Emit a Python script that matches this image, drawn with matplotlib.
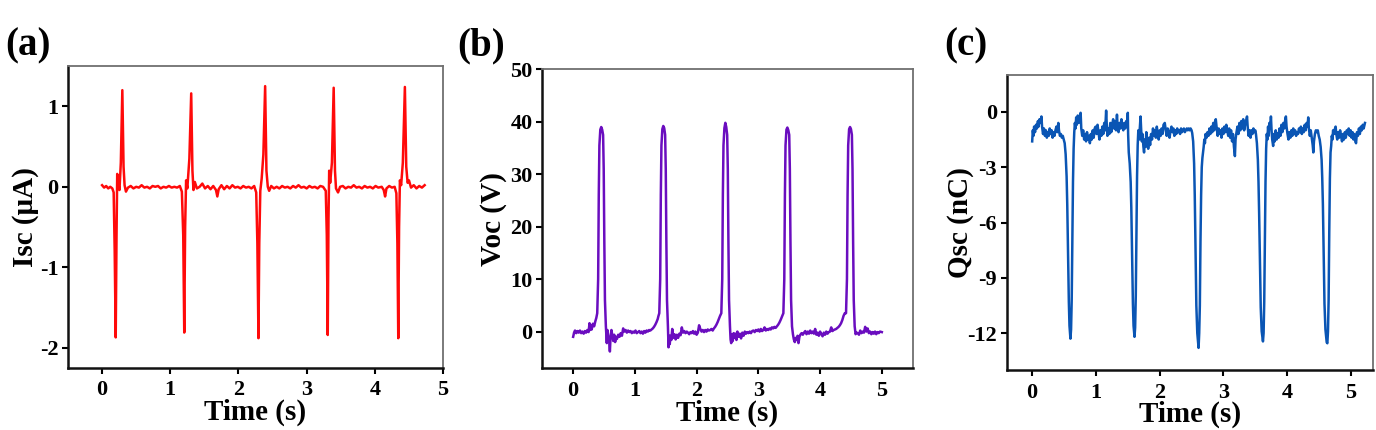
import numpy as np
import matplotlib
matplotlib.use('Agg')
import matplotlib.pyplot as plt

plt.rcParams['font.family'] = ['Liberation Serif', 'DejaVu Serif']
plt.rcParams['font.weight'] = 'bold'
plt.rcParams['axes.unicode_minus'] = False

# (a) short-circuit current, uA
isc_t = [0.00, 0.03, 0.06, 0.09, 0.12, 0.15, 0.17, 0.185, 0.200, 0.212, 0.222, 0.235, 0.255, 0.275, 0.297, 0.315, 0.33, 0.35,
         0.38, 0.42, 0.46, 0.50, 0.54, 0.58, 0.62, 0.66, 0.70, 0.74, 0.78, 0.82, 0.86, 0.90, 0.94, 0.98, 1.02, 1.06, 1.10, 1.14, 1.17,
         1.19, 1.205, 1.218, 1.232, 1.25, 1.28, 1.307, 1.325, 1.34, 1.36, 1.39, 1.43, 1.47, 1.51, 1.55, 1.59, 1.63, 1.67, 1.69, 1.71,
         1.75, 1.79, 1.83, 1.87, 1.91, 1.95, 1.99, 2.03, 2.07, 2.11, 2.15, 2.19, 2.23, 2.26,
         2.277, 2.293, 2.305, 2.32, 2.34, 2.365, 2.391, 2.41, 2.43, 2.45, 2.48, 2.52, 2.56, 2.60, 2.64, 2.68, 2.72, 2.76, 2.80, 2.84,
         2.88, 2.92, 2.96, 3.00, 3.04, 3.08, 3.12, 3.16, 3.20, 3.24, 3.28,
         3.295, 3.309, 3.32, 3.33, 3.345, 3.37, 3.396, 3.415, 3.43, 3.46, 3.49, 3.53, 3.57, 3.61, 3.65, 3.69, 3.73, 3.77, 3.81, 3.85,
         3.89, 3.93, 3.97, 4.01, 4.05, 4.10, 4.13, 4.15, 4.17, 4.21, 4.25, 4.29, 4.315,
         4.33, 4.343, 4.355, 4.367, 4.385, 4.41, 4.44, 4.46, 4.48, 4.50, 4.53, 4.57, 4.61, 4.65, 4.69, 4.73]
isc = [0.02, -0.01, 0.01, -0.02, 0.0, -0.02, -0.07, -0.8, -1.87, -0.6, 0.16, 0.06, -0.04, 0.3, 1.20, 0.25, 0.02, -0.06,
       -0.01, 0.01, -0.02, 0.0, -0.01, 0.02, -0.01, 0.0, -0.02, 0.01, 0.0, 0.01, -0.02, 0.0, -0.01, 0.01, -0.01, 0.0, -0.01, 0.01, -0.06,
       -0.6, -1.81, -0.5, 0.08, -0.02, 0.35, 1.16, 0.2, -0.04, 0.06, -0.02, 0.0, 0.04, -0.02, 0.01, -0.03, 0.01, -0.04, -0.12, -0.03,
       0.02, -0.03, 0.01, -0.02, 0.02, -0.01, 0.0, -0.02, 0.01, -0.01, 0.0, -0.02, 0.01, -0.07,
       -0.7, -1.88, -0.7, -0.05, 0.1, 0.4, 1.25, 0.2, 0.0, -0.05, 0.01, -0.02, 0.0, -0.02, 0.01, -0.01, 0.0, -0.02, 0.01, -0.01,
       0.02, -0.01, 0.0, -0.02, 0.01, -0.01, 0.0, -0.02, 0.01, 0.0, -0.05,
       -0.6, -1.84, -0.4, 0.2, 0.05, 0.3, 1.23, 0.2, -0.02, -0.07, 0.0, 0.01, -0.02, 0.0, -0.01, 0.02, -0.01, 0.0, -0.02, 0.01,
       -0.01, 0.0, -0.02, 0.01, -0.01, 0.0, -0.04, -0.12, -0.02, 0.01, -0.01, 0.0, -0.08,
       -0.7, -1.88, -0.5, 0.08, 0.02, 0.3, 1.24, 0.25, 0.05, 0.08, -0.01, 0.02, -0.02, 0.01, -0.01, 0.02]

# (b) open-circuit voltage, V
voc_t = [0.00, 0.015, 0.03, 0.05, 0.07, 0.09, 0.11, 0.13, 0.15, 0.17, 0.19, 0.21, 0.23, 0.25, 0.265, 0.275, 0.29, 0.30, 0.32,
         0.34, 0.36, 0.375, 0.39, 0.405, 0.415, 0.425, 0.44, 0.455, 0.47, 0.485, 0.495, 0.505, 0.515, 0.53, 0.545, 0.555, 0.57,
         0.585, 0.595, 0.605, 0.62, 0.635, 0.65, 0.665, 0.68, 0.695, 0.71, 0.73, 0.75, 0.77, 0.79, 0.81, 0.83, 0.85, 0.87, 0.89,
         0.91, 0.93, 0.95, 0.97, 0.99, 1.01, 1.03, 1.05, 1.07, 1.09, 1.11, 1.13, 1.15, 1.17, 1.19, 1.21, 1.23, 1.25, 1.27, 1.29,
         1.31, 1.33, 1.35, 1.37, 1.38, 1.395, 1.41, 1.42, 1.43, 1.445, 1.46, 1.475, 1.49, 1.50, 1.51, 1.52, 1.535, 1.545, 1.555,
         1.565, 1.575, 1.59, 1.605, 1.62, 1.64, 1.66, 1.68, 1.70, 1.72, 1.74, 1.76, 1.78, 1.80, 1.82, 1.84, 1.86, 1.88, 1.90, 1.92,
         1.94, 1.96, 1.98, 2.00, 2.02, 2.04, 2.06, 2.08, 2.10, 2.12, 2.14, 2.16, 2.18, 2.20, 2.22, 2.24, 2.26, 2.28, 2.30, 2.32,
         2.34, 2.36, 2.38, 2.40, 2.415, 2.425, 2.435, 2.45, 2.465, 2.48, 2.495, 2.505, 2.515, 2.525, 2.54, 2.55, 2.56, 2.57,
         2.585, 2.60, 2.615, 2.63, 2.645, 2.66, 2.68, 2.70, 2.72, 2.74, 2.76, 2.78, 2.80, 2.82, 2.84, 2.86, 2.88, 2.90, 2.92, 2.94,
         2.96, 2.98, 3.00, 3.02, 3.04, 3.06, 3.08, 3.10, 3.12, 3.14, 3.16, 3.18, 3.20, 3.22, 3.24, 3.26, 3.28, 3.30, 3.32, 3.34,
         3.36, 3.38, 3.395, 3.405, 3.42, 3.43, 3.44, 3.455, 3.47, 3.485, 3.50, 3.51, 3.52, 3.53, 3.545, 3.56, 3.575, 3.59, 3.605,
         3.62, 3.635, 3.65, 3.665, 3.68, 3.70, 3.72, 3.74, 3.76, 3.78, 3.80, 3.82, 3.84, 3.86, 3.88, 3.90, 3.92, 3.94, 3.96, 3.98,
         4.00, 4.02, 4.04, 4.06, 4.08, 4.10, 4.12, 4.14, 4.16, 4.18, 4.20, 4.22, 4.24, 4.26, 4.28, 4.30, 4.32, 4.34, 4.36, 4.38,
         4.40, 4.42, 4.435, 4.445, 4.455, 4.47, 4.485, 4.50, 4.515, 4.525, 4.535, 4.545, 4.56, 4.575, 4.59, 4.61, 4.63, 4.65,
         4.67, 4.69, 4.71, 4.73, 4.75, 4.77, 4.79, 4.81, 4.83, 4.85, 4.87, 4.89, 4.91, 4.93, 4.95, 4.97, 5.00]
voc = [-1.0, -0.2, 0.2, -0.3, 0.1, -0.2, 0.2, -0.3, 0.0, -0.4, 0.1, -0.2, 0.3, -0.1, 1.6, 0.3, 1.2, 0.4, 1.5,
       1.0, 2.0, 2.6, 3.5, 10, 26, 35.5, 38.5, 39.0, 38.5, 37.5, 31, 17, 6, 1.0, -2.2, 0.3, -1.0,
       -2.0, -3.8, -1.2, 0.3, -0.8, -1.8, -0.6, -2.0, -1.0, -1.4, -0.6, -1.0, -0.3, -0.8, 0.6, 0.0, 0.3, -0.2, 0.2,
       -0.1, 0.1, -0.3, 0.0, -0.2, 0.2, -0.3, -0.1, 0.1, -0.3, 0.0, -0.4, 0.1, -0.2, 0.2, 0.0, 0.3, 0.2, 0.4, 0.6,
       0.9, 1.3, 1.8, 2.4, 2.9, 3.5, 10, 26, 35.5, 38.6, 39.2, 38.8, 37.5, 31, 17, 6, 1.0, -3.0, -0.8,
       -2.4, -0.8, -1.6, 0.5, -1.2, -0.5, -1.5, -0.6, -1.2, -0.4, -0.7, 0.8, -0.2, 0.1, -0.3, 0.0, -0.2, -0.5, -0.1, -0.3,
       0.1, -0.4, 0.0, -0.6, -0.2, 1.2, 0.5, 0.0, 0.3, -0.1, 0.3, 0.0, 0.4, 0.2, 0.3, 0.5, 0.2, 0.6, 0.9, 1.3,
       1.8, 2.4, 3.0, 3.5, 10, 26, 35.5, 38.8, 39.8, 39.0, 37.5, 31, 17, 6, 1.0, -1.5, -2.2, -0.5,
       -1.8, -0.3, -1.2, -0.4, -1.6, 0.0, -1.0, -0.4, -1.3, -0.2, -0.8, 0.0, -0.4, -0.1, -0.3, 0.0, -0.3, 0.1, 0.2, -0.1,
       0.3, 0.1, 0.4, 0.0, 0.5, 0.1, 0.3, 0.8, 0.2, 0.5, 0.3, 0.6, 0.4, 0.8, 0.6, 0.9, 0.7, 1.0, 1.3, 1.7,
       2.2, 2.8, 3.2, 3.5, 10, 26, 35.5, 38.5, 38.9, 38.4, 37.5, 31, 17, 6, 1.0, -0.5, -1.5, -2.0, -1.2,
       -1.6, -0.8, -2.2, -1.0, -0.6, -0.3, -0.6, -0.2, 0.1, -0.5, 0.0, -0.4, 0.2, -0.3, 0.0, -0.4, 0.5, -0.6, -0.2, -0.8,
       0.0, -0.5, -0.9, -0.2, -0.6, 0.0, -0.4, -0.1, 0.0, 0.8, 0.1, 0.3, 0.4, 0.5, 0.7, 0.9, 1.2, 1.6, 2.2, 3.0,
       3.5, 3.5, 10, 26, 35.5, 38.6, 39.0, 38.6, 37.5, 31, 17, 6, 1.0, -0.5, -0.2, -0.3, -0.6, 0.2,
       -0.3, 0.0, -0.2, 0.9, 0.0, 0.6, -0.3, 0.0, -0.5, -0.1, -0.4, 0.0, -0.5, -0.1, -0.3, 0.0, -0.1]

# (c) transferred charge, nC
qsc_t = [0.00, 0.01, 0.02, 0.03, 0.045, 0.06, 0.075, 0.09, 0.10, 0.115, 0.13, 0.145, 0.155, 0.17, 0.185, 0.20, 0.215, 0.23,
         0.245, 0.26, 0.275, 0.29, 0.305, 0.32, 0.335, 0.35, 0.365, 0.38, 0.395, 0.41, 0.42, 0.435, 0.45, 0.465, 0.48, 0.495,
         0.51, 0.525, 0.54, 0.55, 0.565, 0.575, 0.585, 0.60, 0.61, 0.62, 0.63, 0.64, 0.65, 0.66, 0.67, 0.68, 0.69, 0.70, 0.715,
         0.73, 0.745, 0.76, 0.77, 0.785, 0.80, 0.815, 0.83, 0.845, 0.86, 0.875, 0.89, 0.905, 0.92, 0.935, 0.95, 0.965, 0.98,
         0.995, 1.01, 1.025, 1.04, 1.055, 1.07, 1.085, 1.10, 1.115, 1.13, 1.145, 1.16, 1.17, 1.18, 1.195, 1.21, 1.225, 1.24,
         1.255, 1.27, 1.285, 1.30, 1.315, 1.33, 1.34, 1.355, 1.37, 1.385, 1.40, 1.415, 1.43, 1.445, 1.46, 1.475, 1.49, 1.50,
         1.505, 1.515, 1.53, 1.545, 1.555, 1.57, 1.58, 1.59, 1.605, 1.615, 1.625, 1.635, 1.645, 1.655, 1.665, 1.675, 1.69, 1.70,
         1.71, 1.72, 1.73, 1.745, 1.755, 1.765, 1.78, 1.79, 1.805, 1.82, 1.835, 1.85, 1.865, 1.88, 1.895, 1.91, 1.925, 1.94,
         1.955, 1.97, 1.985, 2.00, 2.015, 2.03, 2.045, 2.06, 2.08, 2.095, 2.11, 2.125, 2.14, 2.155, 2.17, 2.185, 2.20, 2.215,
         2.23, 2.245, 2.26, 2.275, 2.29, 2.305, 2.32, 2.335, 2.35, 2.365, 2.38, 2.395, 2.41, 2.425, 2.44, 2.455, 2.47, 2.485,
         2.50, 2.51, 2.525, 2.54, 2.55, 2.565, 2.575, 2.59, 2.61, 2.62, 2.63, 2.64, 2.65, 2.66, 2.67, 2.68, 2.69, 2.70, 2.71,
         2.72, 2.735, 2.75, 2.765, 2.78, 2.795, 2.81, 2.825, 2.84, 2.855, 2.87, 2.88, 2.895, 2.91, 2.925, 2.94, 2.955, 2.97,
         2.985, 3.00, 3.015, 3.03, 3.045, 3.06, 3.075, 3.09, 3.105, 3.12, 3.135, 3.15, 3.165, 3.18, 3.19, 3.205, 3.22, 3.235,
         3.25, 3.265, 3.28, 3.295, 3.31, 3.325, 3.34, 3.355, 3.37, 3.38, 3.395, 3.41, 3.425, 3.44, 3.455, 3.47, 3.485, 3.50,
         3.51, 3.525, 3.54, 3.55, 3.56, 3.575, 3.585, 3.60, 3.62, 3.63, 3.64, 3.65, 3.66, 3.67, 3.68, 3.69, 3.70, 3.71, 3.72,
         3.735, 3.745, 3.755, 3.765, 3.78, 3.79, 3.805, 3.82, 3.835, 3.85, 3.865, 3.88, 3.895, 3.91, 3.925, 3.94, 3.955, 3.97,
         3.98, 3.99, 4.005, 4.02, 4.035, 4.05, 4.065, 4.08, 4.095, 4.11, 4.125, 4.14, 4.155, 4.17, 4.185, 4.20, 4.215, 4.23,
         4.245, 4.26, 4.275, 4.29, 4.305, 4.32, 4.33, 4.34, 4.355, 4.37, 4.385, 4.40, 4.41, 4.42, 4.435, 4.45, 4.465, 4.48,
         4.495, 4.51, 4.525, 4.54, 4.55, 4.56, 4.575, 4.585, 4.60, 4.62, 4.63, 4.64, 4.65, 4.66, 4.67, 4.68, 4.69, 4.70, 4.71,
         4.72, 4.735, 4.75, 4.76, 4.77, 4.785, 4.80, 4.815, 4.83, 4.845, 4.86, 4.875, 4.89, 4.905, 4.92, 4.935, 4.95, 4.965,
         4.98, 4.995, 5.01, 5.025, 5.04, 5.055, 5.07, 5.08, 5.095, 5.11, 5.125, 5.14, 5.155, 5.17, 5.185, 5.20, 5.22]
qsc = [-1.6, -1.0, -1.3, -0.8, -1.1, -0.7, -0.9, -0.5, -0.8, -0.4, -0.6, -0.25, -0.8, -1.2, -0.9, -1.3, -1.0, -1.4,
       -1.1, -1.3, -0.9, -1.2, -1.0, -1.4, -1.1, -1.3, -1.0, -0.8, -1.1, -0.6, -1.0, -1.3, -1.2, -1.4, -1.3, -1.5,
       -1.7, -2.3, -3.5, -5.0, -8.0, -10.3, -11.6, -12.3, -11.8, -10.2, -6.8, -3.8, -2.0, -1.1, -0.6, -0.9, -0.3, -0.7, -0.2,
       -0.6, -0.3, -0.05, -0.9, -1.3, -1.0, -1.5, -1.2, -1.6, -1.1, -1.5, -1.3, -1.7, -1.2, -1.5, -1.0, -1.4, -0.9,
       -0.8, -1.2, -0.7, -1.1, -1.5, -1.0, -1.3, -0.8, -1.2, -0.6, -1.0, 0.07, -0.7, -1.3, -0.9, -1.2, -0.6, -1.1,
       -0.7, -0.4, -0.9, -0.5, -1.0, -0.15, -0.8, -1.1, -0.6, -0.9, -0.4, -0.8, -1.0, -0.6, -0.9, -0.5, -0.7, -0.05,
       -1.2, -2.2, -2.8, -3.8, -5.2, -8.2, -10.4, -11.6, -12.2, -11.7, -10.0, -6.5, -3.5, -1.8, -1.0, -1.5, -0.8, -0.25,
       -1.0, -1.6, -1.2, -1.9, -2.2, -1.5, -1.9, -1.1, -1.6, -2.0, -1.4, -1.8, -1.2, -1.5, -0.9, -1.3, -1.0, -1.4,
       -0.8, -1.2, -1.5, -1.0, -1.3, -0.9, -1.2, -0.7, -0.6, -1.0, -1.3, -0.9, -1.2, -1.4, -1.0, -0.8, -1.1, -0.9,
       -1.3, -1.0, -1.2, -0.9, -1.1, -1.0, -1.2, -0.9, -1.1, -1.0, -0.9, -1.1, -1.0, -0.9, -1.0, -0.9, -1.0, -0.9,
       -1.0, -1.15, -1.6, -2.8, -4.5, -8.0, -10.5, -12.0, -12.8, -12.0, -10.5, -7.0, -4.5, -3.0, -2.5, -2.2, -1.9, -1.5, -1.7,
       -1.2, -1.4, -1.1, -1.3, -0.9, -1.2, -0.8, -1.1, -0.6, -1.0, -0.5, -0.4, -0.9, -1.3, -0.9, -1.2, -1.0, -1.4,
       -0.9, -1.2, -0.8, -1.1, -0.7, -1.0, -1.3, -0.9, -1.4, -1.0, -1.6, -1.2, -1.9, -2.4, -1.5, -1.1, -0.8, -1.2,
       -0.6, -1.0, -0.5, -0.9, -0.4, -1.0, -0.7, -0.5, -0.25, -0.8, -1.3, -1.0, -1.4, -1.0, -1.2, -0.9, -1.1, -1.0,
       -1.2, -1.7, -2.6, -3.8, -5.5, -8.5, -10.6, -11.9, -12.45, -12.0, -10.3, -6.8, -3.8, -2.0, -1.2, -1.5, -0.8, -1.3, -0.6,
       -0.9, -0.25, -1.0, -1.5, -1.85, -1.2, -1.6, -1.0, -1.5, -1.15, -1.4, -0.9, -1.3, -0.7, -1.1, -0.6, -0.9, -0.4,
       -0.25, -0.8, -1.2, -1.5, -1.1, -1.4, -1.0, -1.3, -0.9, -1.2, -1.0, -1.3, -1.1, -1.2, -0.9, -1.1, -0.8, -1.2,
       -0.9, -1.1, -0.7, -1.0, -0.6, -0.8, -0.3, -0.9, -1.3, -1.0, -1.4, -1.8, -2.2, -1.6, -1.2, -1.0, -1.1, -1.0,
       -1.3, -1.5, -1.9, -2.6, -3.6, -5.0, -8.2, -10.4, -11.8, -12.5, -12.55, -11.9, -10.2, -6.5, -3.6, -2.2, -1.85, -1.3, -1.5,
       -1.0, -1.2, -0.9, -0.8, -1.2, -1.5, -1.1, -1.4, -1.0, -1.3, -1.6, -1.2, -1.5, -1.1, -1.4, -1.0, -1.2, -0.9,
       -1.3, -1.0, -1.4, -1.1, -1.5, -1.2, -1.6, -1.7, -1.1, -1.3, -0.9, -1.2, -0.8, -1.0, -0.7, -0.9, -0.6]

fig = plt.figure(figsize=(13.76, 4.30), dpi=100)

panels = [
    # rect, t, y, color, ylabel, xlim, ylim, yticks, letter, letter x, ylabel x
    ([0.0494, 0.1442, 0.2726, 0.7023], isc_t, isc, '#ff0a0a', 'Isc (\u03bcA)', (-0.5, 5), (-2.25, 1.5), [-2, -1, 0, 1], '(a)', 0.004, -0.077),
    ([0.3941, 0.1435, 0.2692, 0.6953], voc_t, voc, '#6a0dbf', 'Voc (V)', (-0.5, 5.5), (-7, 50), [0, 10, 20, 30, 40, 50], '(b)', 0.332, -0.095),
    ([0.7316, 0.1395, 0.2664, 0.6861], qsc_t, qsc, '#0a55b4', 'Qsc (nC)', (-0.4, 5.35), (-14, 2), [-12, -9, -6, -3, 0], '(c)', 0.686, -0.089),
]

for rect, t, y, col, ylab, xl, yl, yt, letter, lx, ylx in panels:
    ax = fig.add_axes(rect)
    ax.plot(t, y, color=col, lw=1.8)
    ax.set_xlim(*xl)
    ax.set_ylim(*yl)
    ax.set_xticks([0, 1, 2, 3, 4, 5])
    ax.set_yticks(yt)
    ax.tick_params(direction='out', length=4, width=1.5, labelsize=16)
    ax.tick_params(axis='x', pad=5)
    ax.tick_params(axis='y', pad=3)
    for side in ['left', 'bottom']:
        ax.spines[side].set_linewidth(1.8)
        ax.spines[side].set_color('#111111')
    for side in ['top', 'right']:
        ax.spines[side].set_linewidth(1.3)
        ax.spines[side].set_color('#707070')
    ax.set_xlabel('Time (s)', fontsize=21, fontweight='bold', labelpad=-1)
    ax.set_ylabel(ylab, fontsize=21, fontweight='bold')
    ax.yaxis.set_label_coords(ylx, 0.5)
    fig.text(lx, 0.893, letter, fontsize=28, fontweight='bold', ha='left', va='center')

plt.savefig('out.png', dpi=100)
